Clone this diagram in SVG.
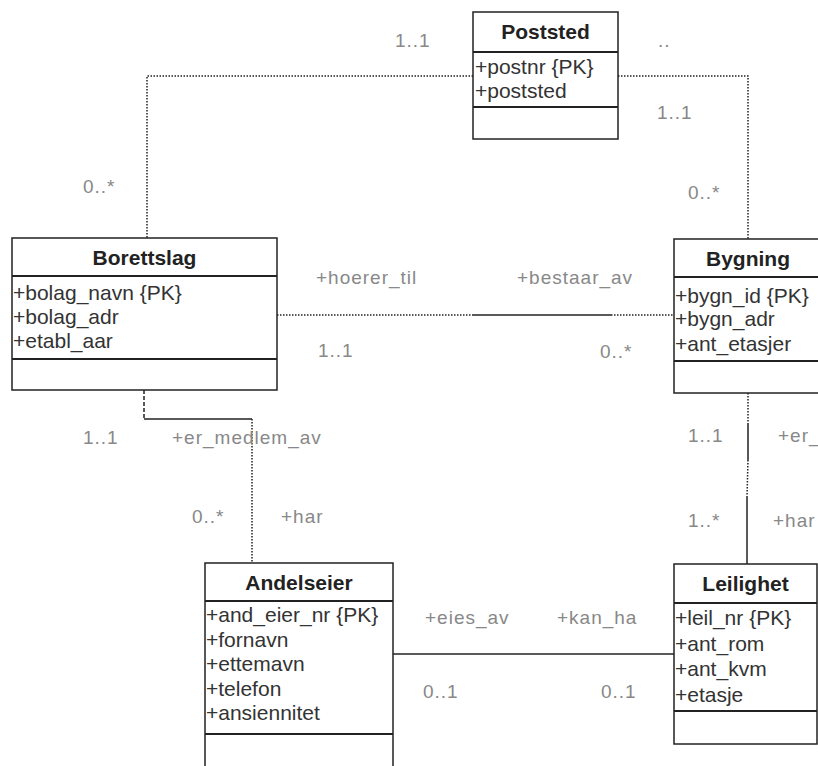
<svg xmlns="http://www.w3.org/2000/svg" width="818" height="766" viewBox="0 0 818 766">
<style>
.box{fill:#fff;stroke:#222;stroke-width:1.5}
.sep{stroke:#222;stroke-width:2}
.dot{stroke:#222;stroke-width:1.5;stroke-dasharray:1.5 1.5;fill:none}
.dash{stroke:#222;stroke-width:1.5;stroke-dasharray:4 2;fill:none}
.sol{stroke:#222;stroke-width:1.5;fill:none}
.title{font-family:"Liberation Sans",Arial,sans-serif;font-weight:bold;font-size:21px;fill:#222;text-anchor:middle}
.attr{font-family:"Liberation Sans",Arial,sans-serif;font-size:21px;fill:#333}
.lbl{font-family:"Liberation Sans",Arial,sans-serif;font-size:19px;letter-spacing:1px;fill:#888}
</style>
<rect width="818" height="766" fill="#fff"/>
<g id="connectors">
<polyline class="dot" points="473,76 147,76 147,238"/>
<polyline class="dot" points="618,76 748,76 748,239"/>
<line class="dot" x1="277" y1="315" x2="473" y2="315"/>
<line class="sol" x1="473" y1="315" x2="611" y2="315"/>
<line class="dot" x1="611" y1="315" x2="674" y2="315"/>
<line class="dash" x1="144" y1="390" x2="144" y2="419"/>
<line class="sol" x1="144" y1="419" x2="252" y2="419"/>
<line class="dot" x1="252" y1="419" x2="252" y2="563"/>
<line class="dot" x1="748" y1="393" x2="748" y2="423"/>
<line class="sol" x1="748" y1="423" x2="748" y2="460"/>
<line class="dot" x1="748" y1="460" x2="747" y2="497"/>
<line class="sol" x1="747" y1="497" x2="747" y2="564"/>
<line class="sol" x1="386" y1="654" x2="674" y2="654"/>
<text class="lbl" x="395" y="47">1..1</text>
<text class="lbl" x="658" y="47">..</text>
<text class="lbl" x="657" y="119">1..1</text>
<text class="lbl" x="83" y="193">0..*</text>
<text class="lbl" x="688" y="199">0..*</text>
<text class="lbl" x="316" y="284">+hoerer_til</text>
<text class="lbl" x="517" y="284">+bestaar_av</text>
<text class="lbl" x="318" y="357">1..1</text>
<text class="lbl" x="600" y="358">0..*</text>
<text class="lbl" x="83" y="444">1..1</text>
<text class="lbl" x="172" y="444">+er_medlem_av</text>
<text class="lbl" x="192" y="523">0..*</text>
<text class="lbl" x="281" y="523">+har</text>
<text class="lbl" x="688" y="442">1..1</text>
<text class="lbl" x="778" y="442">+er_i</text>
<text class="lbl" x="688" y="527">1..*</text>
<text class="lbl" x="773" y="527">+har</text>
<text class="lbl" x="425" y="624">+eies_av</text>
<text class="lbl" x="557" y="624">+kan_ha</text>
<text class="lbl" x="423" y="698">0..1</text>
<text class="lbl" x="601" y="698">0..1</text>
</g>
<g id="Poststed">
<rect class="box" x="473" y="12" width="145" height="127"/>
<line class="sep" x1="473" y1="52" x2="618" y2="52"/>
<line class="sep" x1="473" y1="107" x2="618" y2="107"/>
<text class="title" x="545.5" y="39">Poststed</text>
<text class="attr" x="475" y="74">+postnr {PK}</text>
<text class="attr" x="475" y="98">+poststed</text>
</g>
<g id="Borettslag">
<rect class="box" x="12" y="238" width="265" height="152"/>
<line class="sep" x1="12" y1="276" x2="277" y2="276"/>
<line class="sep" x1="12" y1="359" x2="277" y2="359"/>
<text class="title" x="144.5" y="265">Borettslag</text>
<text class="attr" x="13" y="300">+bolag_navn {PK}</text>
<text class="attr" x="13" y="324">+bolag_adr</text>
<text class="attr" x="13" y="348">+etabl_aar</text>
</g>
<g id="Bygning">
<rect class="box" x="674" y="239" width="150" height="154"/>
<line class="sep" x1="674" y1="277" x2="824" y2="277"/>
<line class="sep" x1="674" y1="361" x2="824" y2="361"/>
<text class="title" x="748" y="266">Bygning</text>
<text class="attr" x="675" y="303">+bygn_id {PK}</text>
<text class="attr" x="675" y="326">+bygn_adr</text>
<text class="attr" x="675" y="351">+ant_etasjer</text>
</g>
<g id="Andelseier">
<rect class="box" x="205" y="563" width="188" height="230"/>
<line class="sep" x1="205" y1="601" x2="393" y2="601"/>
<line class="sep" x1="205" y1="734" x2="393" y2="734"/>
<text class="title" x="299" y="590">Andelseier</text>
<text class="attr" x="206" y="622">+and_eier_nr {PK}</text>
<text class="attr" x="206" y="647">+fornavn</text>
<text class="attr" x="206" y="671">+ettemavn</text>
<text class="attr" x="206" y="696">+telefon</text>
<text class="attr" x="206" y="720">+ansiennitet</text>
</g>
<g id="Leilighet">
<rect class="box" x="674" y="564" width="143" height="180"/>
<line class="sep" x1="674" y1="603" x2="817" y2="603"/>
<line class="sep" x1="674" y1="711" x2="817" y2="711"/>
<text class="title" x="745.5" y="591">Leilighet</text>
<text class="attr" x="675" y="625">+leil_nr {PK}</text>
<text class="attr" x="675" y="651">+ant_rom</text>
<text class="attr" x="675" y="676">+ant_kvm</text>
<text class="attr" x="675" y="702">+etasje</text>
</g>
</svg>
